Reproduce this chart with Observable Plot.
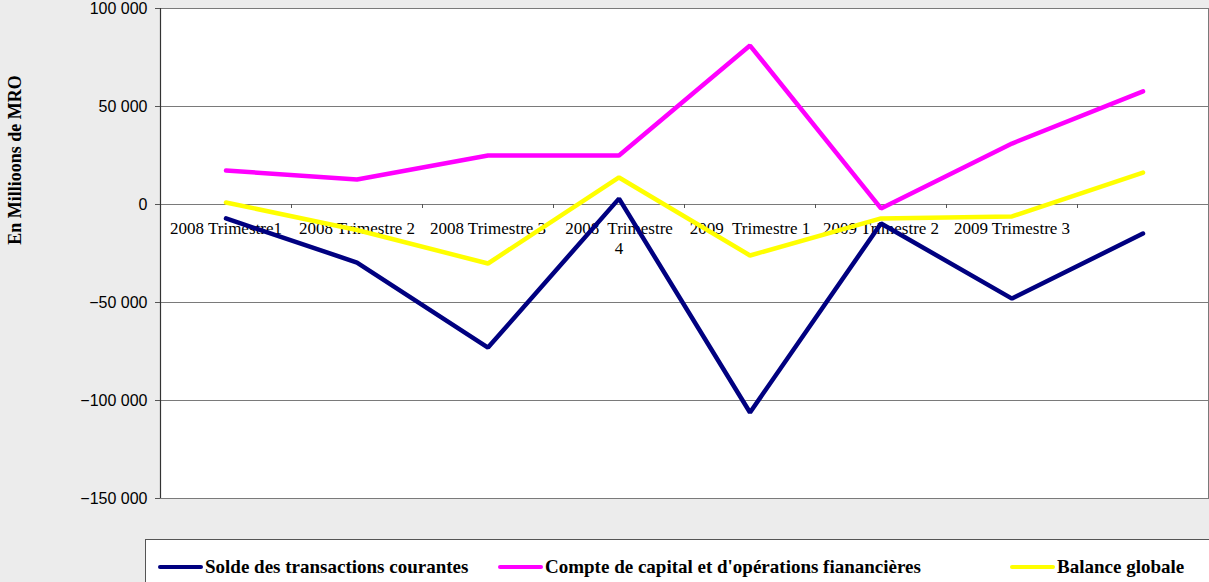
<!DOCTYPE html>
<html>
<head>
<meta charset="utf-8">
<script src="https://cdn.jsdelivr.net/npm/d3@7"></script>
<script src="https://cdn.jsdelivr.net/npm/@observablehq/plot@0.6"></script>
<style>
  html, body { margin: 0; padding: 0; }
  body { width: 1209px; height: 582px; overflow: hidden; position: relative;
         background: #ececec; }
  #chart { position: absolute; left: 0; top: 0; }
  #ytitle { position: absolute; left: 15px; top: 160px; transform: translate(-50%, -50%) rotate(-90deg);
            font-family: "Liberation Serif", "Times New Roman", serif; font-weight: bold; font-size: 18px;
            white-space: nowrap; color: #000; }
  #legend { position: absolute; left: 145px; top: 539px; width: 1080px; height: 60px; background: #fff;
            border: 1px solid #555; box-sizing: border-box; }
  .item { position: absolute; top: 16px; display: flex; align-items: center; white-space: nowrap;
          font-family: "Liberation Serif", "Times New Roman", serif; font-weight: bold; font-size: 19px; color: #000; }
  .sw { display: inline-block; width: 45px; height: 4px; border-radius: 2px; margin-right: 2px; }
</style>
</head>
<body>
<div id="chart"></div>
<div id="ytitle">En Millioons de MRO</div>
<div id="legend"></div>
<script>
// ---- data ----
const categories = ["2008 T1", "2008 T2", "2008 T3", "2008 T4", "2009 T1", "2009 T2", "2009 T3", "2009 T4"];
const tickLabels = ["2008 Trimestre1", "2008 Trimestre 2", "2008 Trimestre 3", "2008  Trimestre\n4",
                    "2009  Trimestre 1", "2009 Trimestre 2", "2009 Trimestre 3", ""];
const solde   = [-7100, -29600, -73000, 3000, -106100, -9700, -48000, -14800];
const compte  = [17300, 12800, 25000, 25000, 81100, -2000, 31100, 57700];
const balance = [1000, -13000, -30100, 13800, -26000, -7100, -6100, 16300];
const seriesNames  = ["Solde des transactions courantes", "Compte de capital et d'opérations fianancières", "Balance globale"];
const seriesColors = ["#000080", "#ff00ff", "#ffff00"];
const yTicks = [-150000, -100000, -50000, 0, 50000, 100000];

const seriesValues = [solde, compte, balance];
const rows = [];
seriesValues.forEach((vals, s) => vals.forEach((v, i) => rows.push({cat: i, pos: i + 0.5, value: v, series: seriesNames[s]})));
const labelRows = tickLabels.map((t, i) => ({pos: i + 0.5, label: t}));
const boundaries = categories.slice(1).map((c, i) => i + 1);

const fmt = v => d3.format(",")(v).replace(/,/g, " ");

const chart = Plot.plot({
  width: 1209,
  height: 530,
  marginLeft: 160,
  marginRight: 1,
  marginTop: 8,
  marginBottom: 32,
  style: {fontFamily: "'Liberation Sans', Arial, sans-serif", fontSize: "16px", color: "#000", background: "transparent"},
  x: {type: "linear", domain: [0, categories.length], axis: null},
  y: {domain: [-150000, 100000], axis: null},
  color: {domain: seriesNames, range: seriesColors},
  marks: [
    Plot.frame({fill: "white", stroke: "none"}),
    Plot.ruleY(yTicks.filter(v => v > -150000 && v < 100000), {stroke: "#7a7a7a", strokeWidth: 1}),
    Plot.frame({stroke: "#7a7a7a", strokeWidth: 1}),
    Plot.ruleX([0], {stroke: "#333", strokeWidth: 1.2}),
    Plot.ruleX(boundaries, {y1: 0, y2: 0, insetBottom: -4, stroke: "#555"}),
    Plot.axisY({ticks: yTicks, tickFormat: fmt, tickSize: 5, tickPadding: 8, stroke: "#555", fontSize: 16, label: null}),
    Plot.text(labelRows, {x: "pos", y: () => 0, text: "label", dy: 15, lineAnchor: "top",
      fontFamily: "'Liberation Serif', 'Times New Roman', serif", fontSize: 17, fill: "#000", lineHeight: 1.2}),
    Plot.line(rows, {x: "pos", y: "value", z: "series", stroke: "series", strokeWidth: 4.5,
      strokeLinejoin: "miter", strokeLinecap: "round"})
  ]
});
document.getElementById("chart").appendChild(chart);

// ---- legend ----
const legend = document.getElementById("legend");
const lefts = [12, 352, 864];
seriesNames.forEach((name, i) => {
  const it = document.createElement("div");
  it.className = "item";
  it.style.left = lefts[i] + "px";
  const sw = document.createElement("span");
  sw.className = "sw";
  sw.style.background = seriesColors[i];
  it.appendChild(sw);
  it.appendChild(document.createTextNode(name));
  legend.appendChild(it);
});
</script>
</body>
</html>
